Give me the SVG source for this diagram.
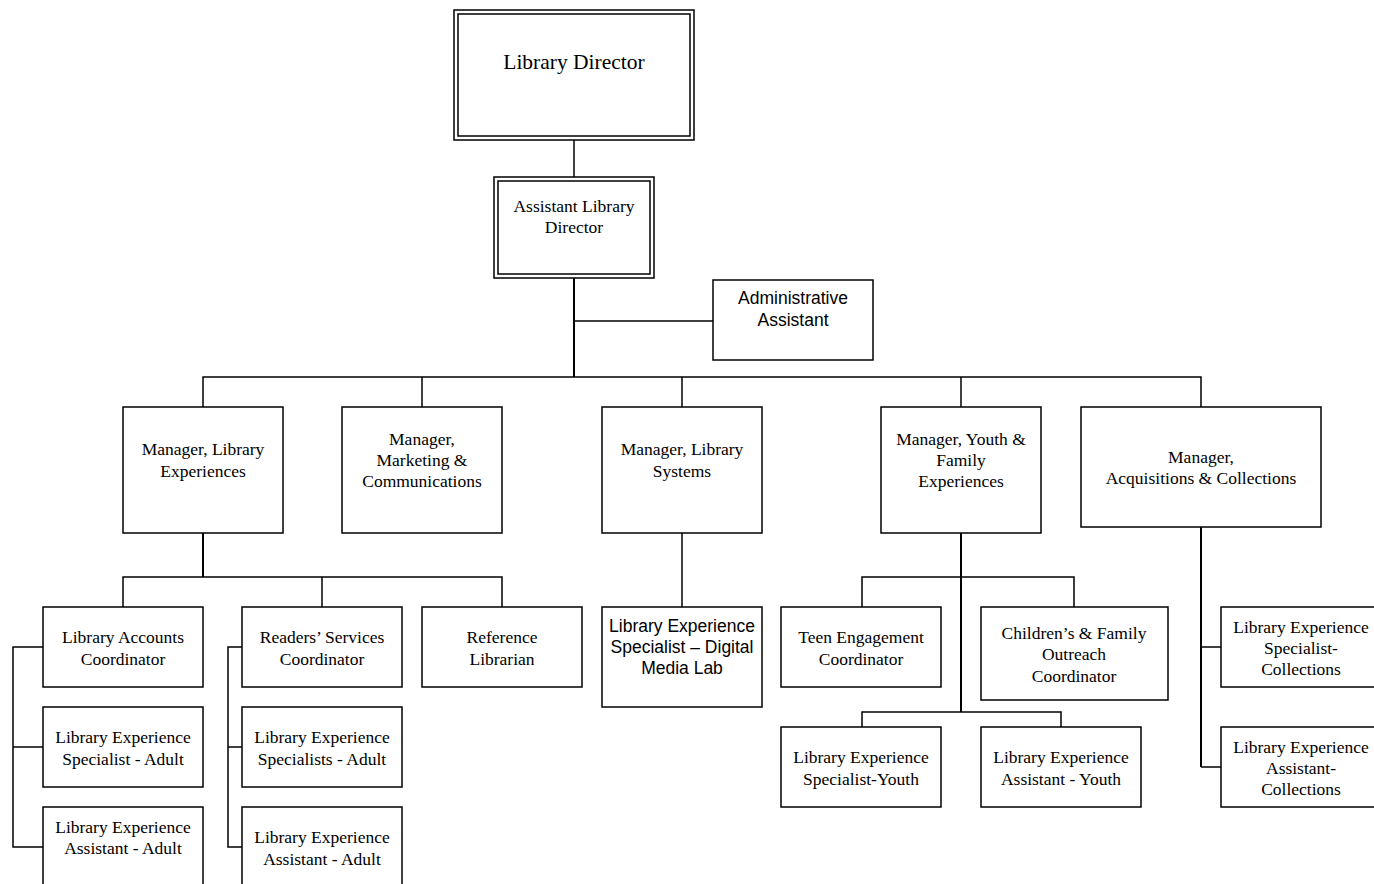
<svg xmlns="http://www.w3.org/2000/svg" width="1374" height="884" viewBox="0 0 1374 884">
  <style>
    .box { fill: #ffffff; stroke: #000000; stroke-width: 1.5; }
    .ln { fill: none; stroke: #000000; stroke-width: 1.5; }
    .trunk { fill: none; stroke: #000000; stroke-width: 2; }
    .t { font-family: "Liberation Serif", "Times New Roman", serif; font-size: 17.5px; fill: #000000; text-anchor: middle; }
    .s { font-family: "Liberation Sans", Arial, sans-serif; font-size: 17.5px; fill: #000000; text-anchor: middle; }
    .big { font-size: 21.5px; }
  </style>
  <rect width="1374" height="884" fill="#ffffff"/>

  <!-- connectors -->
  <g id="connectors">
    <line class="ln" x1="574" y1="140" x2="574" y2="177"/>
    <line class="trunk" x1="574" y1="278" x2="574" y2="377"/>
    <line class="ln" x1="574" y1="321" x2="713" y2="321"/>
    <polyline class="ln" points="203,407 203,377 1201,377 1201,407"/>
    <line class="ln" x1="422" y1="377" x2="422" y2="407"/>
    <line class="ln" x1="682" y1="377" x2="682" y2="407"/>
    <line class="ln" x1="961" y1="377" x2="961" y2="407"/>

    <!-- Library Experiences branch -->
    <line class="trunk" x1="203" y1="533" x2="203" y2="577"/>
    <polyline class="ln" points="123,607 123,577 502,577 502,607"/>
    <line class="ln" x1="322" y1="577" x2="322" y2="607"/>
    <polyline class="ln" points="43,647 13,647 13,847 43,847"/>
    <line class="ln" x1="13" y1="747" x2="43" y2="747"/>
    <polyline class="ln" points="242,647 228,647 228,847 242,847"/>
    <line class="ln" x1="228" y1="747" x2="242" y2="747"/>

    <!-- Library Systems branch -->
    <line class="ln" x1="682" y1="533" x2="682" y2="607"/>

    <!-- Youth & Family branch -->
    <line class="trunk" x1="961" y1="533" x2="961" y2="712"/>
    <polyline class="ln" points="862,607 862,577 1074,577 1074,607"/>
    <polyline class="ln" points="862,727 862,712 1061,712 1061,727"/>

    <!-- Acquisitions branch -->
    <line class="trunk" x1="1201" y1="527" x2="1201" y2="767"/>
    <line class="ln" x1="1201" y1="647" x2="1221" y2="647"/>
    <line class="ln" x1="1201" y1="767" x2="1221" y2="767"/>
  </g>

  <g id="library-director">
    <rect class="box" x="454" y="10" width="240" height="130"/>
    <rect class="box" x="458" y="14" width="232" height="122"/>
    <text class="t big" x="574" y="69">Library Director</text>
  </g>

  <g id="assistant-director">
    <rect class="box" x="494" y="177" width="160" height="101"/>
    <rect class="box" x="498" y="181" width="152" height="93"/>
    <text class="t" x="574" y="212">Assistant Library</text>
    <text class="t" x="574" y="233">Director</text>
  </g>

  <g id="admin-assistant">
    <rect class="box" x="713" y="280" width="160" height="80"/>
    <text class="s" x="793" y="304">Administrative</text>
    <text class="s" x="793" y="326">Assistant</text>
  </g>

  <g id="mgr-library-experiences">
    <rect class="box" x="123" y="407" width="160" height="126"/>
    <text class="t" x="203" y="455">Manager, Library</text>
    <text class="t" x="203" y="477">Experiences</text>
  </g>

  <g id="mgr-marketing">
    <rect class="box" x="342" y="407" width="160" height="126"/>
    <text class="t" x="422" y="445">Manager,</text>
    <text class="t" x="422" y="466">Marketing &amp;</text>
    <text class="t" x="422" y="487">Communications</text>
  </g>

  <g id="mgr-library-systems">
    <rect class="box" x="602" y="407" width="160" height="126"/>
    <text class="t" x="682" y="455">Manager, Library</text>
    <text class="t" x="682" y="477">Systems</text>
  </g>

  <g id="mgr-youth-family">
    <rect class="box" x="881" y="407" width="160" height="126"/>
    <text class="t" x="961" y="445">Manager, Youth &amp;</text>
    <text class="t" x="961" y="466">Family</text>
    <text class="t" x="961" y="487">Experiences</text>
  </g>

  <g id="mgr-acquisitions">
    <rect class="box" x="1081" y="407" width="240" height="120"/>
    <text class="t" x="1201" y="463">Manager,</text>
    <text class="t" x="1201" y="484">Acquisitions &amp; Collections</text>
  </g>

  <g id="accounts-coordinator">
    <rect class="box" x="43" y="607" width="160" height="80"/>
    <text class="t" x="123" y="643">Library Accounts</text>
    <text class="t" x="123" y="665">Coordinator</text>
  </g>

  <g id="specialist-adult">
    <rect class="box" x="43" y="707" width="160" height="80"/>
    <text class="t" x="123" y="743">Library Experience</text>
    <text class="t" x="123" y="765">Specialist - Adult</text>
  </g>

  <g id="assistant-adult-1">
    <rect class="box" x="43" y="807" width="160" height="82"/>
    <text class="t" x="123" y="833">Library Experience</text>
    <text class="t" x="123" y="854">Assistant - Adult</text>
  </g>

  <g id="readers-services">
    <rect class="box" x="242" y="607" width="160" height="80"/>
    <text class="t" x="322" y="643">Readers’ Services</text>
    <text class="t" x="322" y="665">Coordinator</text>
  </g>

  <g id="specialists-adult">
    <rect class="box" x="242" y="707" width="160" height="80"/>
    <text class="t" x="322" y="743">Library Experience</text>
    <text class="t" x="322" y="765">Specialists - Adult</text>
  </g>

  <g id="assistant-adult-2">
    <rect class="box" x="242" y="807" width="160" height="82"/>
    <text class="t" x="322" y="843">Library Experience</text>
    <text class="t" x="322" y="865">Assistant - Adult</text>
  </g>

  <g id="reference-librarian">
    <rect class="box" x="422" y="607" width="160" height="80"/>
    <text class="t" x="502" y="643">Reference</text>
    <text class="t" x="502" y="665">Librarian</text>
  </g>

  <g id="digital-media-lab">
    <rect class="box" x="602" y="607" width="160" height="100"/>
    <text class="s" x="682" y="632">Library Experience</text>
    <text class="s" x="682" y="653">Specialist – Digital</text>
    <text class="s" x="682" y="674">Media Lab</text>
  </g>

  <g id="teen-engagement">
    <rect class="box" x="781" y="607" width="160" height="80"/>
    <text class="t" x="861" y="643">Teen Engagement</text>
    <text class="t" x="861" y="665">Coordinator</text>
  </g>

  <g id="childrens-family">
    <rect class="box" x="981" y="607" width="187" height="93"/>
    <text class="t" x="1074" y="639">Children’s &amp; Family</text>
    <text class="t" x="1074" y="660">Outreach</text>
    <text class="t" x="1074" y="682">Coordinator</text>
  </g>

  <g id="specialist-youth">
    <rect class="box" x="781" y="727" width="160" height="80"/>
    <text class="t" x="861" y="763">Library Experience</text>
    <text class="t" x="861" y="785">Specialist-Youth</text>
  </g>

  <g id="assistant-youth">
    <rect class="box" x="981" y="727" width="160" height="80"/>
    <text class="t" x="1061" y="763">Library Experience</text>
    <text class="t" x="1061" y="785">Assistant - Youth</text>
  </g>

  <g id="specialist-collections">
    <rect class="box" x="1221" y="607" width="160" height="80"/>
    <text class="t" x="1301" y="633">Library Experience</text>
    <text class="t" x="1301" y="654">Specialist-</text>
    <text class="t" x="1301" y="675">Collections</text>
  </g>

  <g id="assistant-collections">
    <rect class="box" x="1221" y="727" width="160" height="80"/>
    <text class="t" x="1301" y="753">Library Experience</text>
    <text class="t" x="1301" y="774">Assistant-</text>
    <text class="t" x="1301" y="795">Collections</text>
  </g>
</svg>
